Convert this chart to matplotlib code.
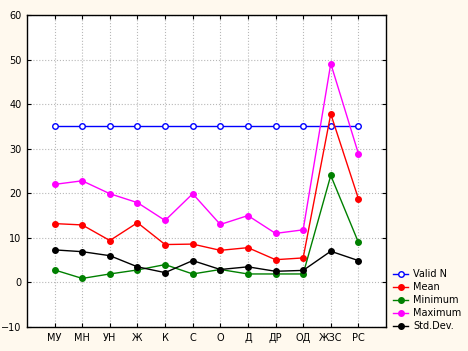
import matplotlib
matplotlib.use("Agg")
import matplotlib.pyplot as plt

cats = ['МУ', 'МН', 'УН', 'Ж', 'К', 'С', 'О', 'Д', 'ДР', 'ОД', 'ЖЗС', 'РС']
valid_n = [35] * 12
mean = [13.2, 12.9, 9.4, 13.4, 8.5, 8.6, 7.2, 7.8, 5.1, 5.5, 37.8, 18.8]
minimum = [2.8, 0.9, 1.9, 2.8, 4.0, 1.9, 2.9, 1.9, 1.9, 1.9, 24.0, 9.0]
maximum = [22.0, 22.8, 19.9, 17.9, 13.9, 19.9, 13.0, 15.0, 11.0, 11.8, 49.1, 28.9]
std_dev = [7.3, 6.9, 6.0, 3.5, 2.2, 4.9, 2.9, 3.5, 2.5, 2.7, 7.0, 4.9]

bg = '#fff9ee'
plt.rcParams['font.family'] = ['DejaVu Sans']
fig = plt.figure(figsize=(4.68, 3.51), dpi=100, facecolor=bg)
ax = fig.add_axes([27 / 468, 24 / 351, 359 / 468, 312 / 351])
ax.set_facecolor('white')

x = list(range(len(cats)))
ms = 4
ax.plot(x, valid_n, color='blue', lw=1, marker='o', ms=ms, mfc='white', mec='blue', mew=1, label='Valid N')
ax.plot(x, mean, color='red', lw=1, marker='o', ms=ms, label='Mean')
ax.plot(x, minimum, color='green', lw=1, marker='o', ms=ms, label='Minimum')
ax.plot(x, maximum, color='magenta', lw=1, marker='o', ms=ms, label='Maximum')
ax.plot(x, std_dev, color='black', lw=1, marker='o', ms=ms, label='Std.Dev.')

ax.set_xlim(-1, 12)
ax.set_ylim(-10, 60)
ax.set_xticks(x)
ax.set_xticklabels(cats)
ax.set_yticks(range(-10, 61, 10))
ax.tick_params(direction='in', length=3, labelsize=7, top=True, right=True, pad=4)
ax.grid(True, color='#b8b8b8', ls=':', lw=0.8)
for s in ax.spines.values():
    s.set_linewidth(1)

ax.legend(loc='lower left', bbox_to_anchor=(1.0, -0.035), frameon=False, fontsize=7,
          handlelength=1.6, handletextpad=0.5, labelspacing=0.3, borderaxespad=0.3)

fig.savefig('out.png', dpi=100, facecolor=bg)
